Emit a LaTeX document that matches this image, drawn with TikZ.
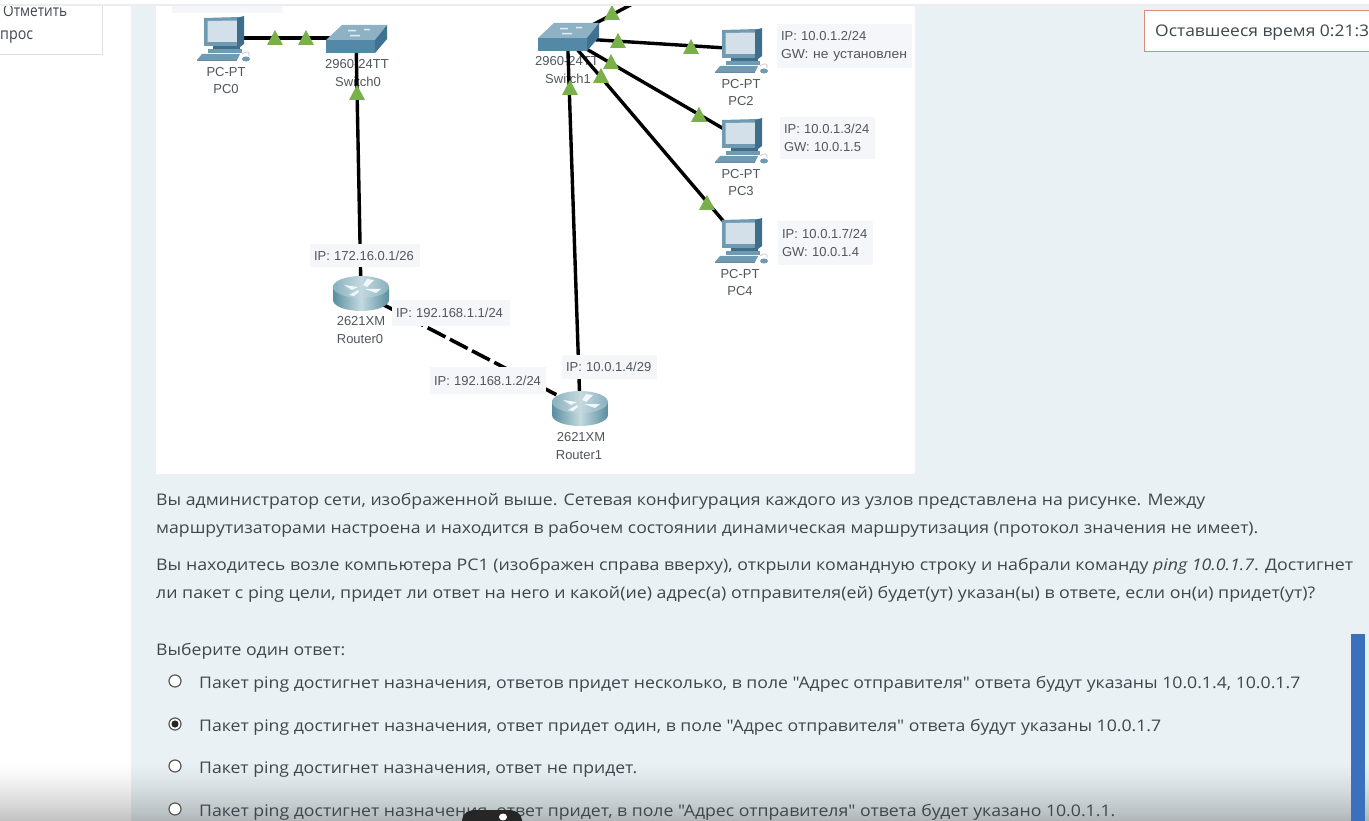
\documentclass[tikz,border=0pt]{standalone}
\usepackage{fontspec}
\usepackage{graphicx}
\newfontfamily\bodyfont{Open Sans}
\newfontfamily\labfont{Liberation Sans}
\usetikzlibrary{shapes.geometric}
\definecolor{panel}{HTML}{E9F1F4}
\definecolor{body}{HTML}{3F474D}
\definecolor{labbg}{HTML}{F4F6FA}
\definecolor{labtx}{HTML}{50565C}
\definecolor{linkgreen}{HTML}{79B04A}
\definecolor{pcframe}{HTML}{6F9AB2}
\definecolor{pcdark}{HTML}{3E6E8A}
\definecolor{pcscreen}{HTML}{D3E0EA}
\definecolor{swtop}{HTML}{8FB1C4}
\definecolor{swfront}{HTML}{5389A6}
\definecolor{swside}{HTML}{3F7190}
\definecolor{rtedge}{HTML}{5A8E9F}
\definecolor{rtmid}{HTML}{C4DAE0}
\definecolor{rttop}{HTML}{9DBFCB}
\definecolor{timerline}{HTML}{D98A78}
\definecolor{scrollbar}{HTML}{3A70BC}
\tikzset{
  txt/.style={anchor=base west,inner sep=0pt,text=body,font=\bodyfont\fontsize{16}{18}\selectfont},
  devtxt/.style={inner sep=0pt,text=labtx,font=\labfont\fontsize{13}{15}\selectfont},
  iplab/.style={fill=labbg,inner xsep=4pt,inner ysep=0pt,align=left,text=labtx,font=\labfont\fontsize{13}{18}\selectfont},
  wire/.style={line width=3.4pt,black},
  dashwire/.style={line width=3.6pt,black,dash pattern=on 20pt off 5pt},
  radio/.style={circle,draw=black!65,fill=white,line width=1.2pt,minimum size=12pt,inner sep=0pt},
  pt/.style={circle,inner sep=0pt,minimum size=0pt},
  tri/.style={fill=linkgreen,draw=none},
  pics/pcicon/.style={code={
    \fill[pcframe] (0,1) -- (36,0) -- (36,29) -- (0,29) -- cycle;
    \fill[pcscreen] (3.5,4) -- (33,3.5) -- (33,25) -- (3.5,25) -- cycle;
    \fill[pcdark] (33,1) -- (40,-1) -- (40,27) -- (36,30) -- (33,29) -- cycle;
    \fill[pcdark] (9,29) -- (36,29) -- (36,32) -- (9,32) -- cycle;
    \fill[pcframe] (4,32) -- (38,32) -- (38,36) -- (4,36) -- cycle;
    \fill[pcframe] (-2,37) -- (36,37) -- (33,43) -- (-7,43) -- cycle;
    \fill[pcdark!80] (-7,43) -- (33,43) -- (33,44.5) -- (-7,44.5) -- cycle;
    \fill[pcframe] (42,42) ellipse (4pt and 2.5pt);
    \draw[black!25,line width=.6pt] (38,37) .. controls (43,33) and (46,35) .. (45,39);
  }},
  pics/swicon/.style={code={
    \fill[swtop] (0,15) -- (16,0) -- (61,0) -- (49,15) -- cycle;
    \fill[swfront] (0,15) -- (49,15) -- (49,28) -- (0,28) -- cycle;
    \fill[swside] (49,15) -- (61,0) -- (61,14) -- (49,28) -- cycle;
    \fill[white!75!swtop] (22,5) rectangle (30,6.5) (38,4) rectangle (44,5.5) (24,10) rectangle (34,11.5);
  }},
  pics/rticon/.style={code={
    \shade[left color=rtedge,right color=rtedge,middle color=rtmid]
       (-28,-10) -- (-28,3) arc[start angle=180,end angle=0,x radius=28,y radius=11] -- (28,-10) -- cycle;
    \shade[left color=rttop!70!rtedge,right color=rttop!70!rtedge,middle color=rttop!60!white] (0,-10) ellipse (28pt and 11pt);
    \fill[white!70!pcscreen] (-17,-12) -- (-3,-10) -- (-9,-7) -- cycle (6,-18) -- (13,-17) -- (6,-10) -- (2,-12) -- cycle
      (4,-8) -- (20,-8) -- (15,-4) -- cycle (-12,-2) -- (-3,-7) -- (-2,-5) -- (-7,-1) -- cycle;
  }}
}
\newcommand{\tline}[5]{\node[txt] (#1) at (#2,#3) {\resizebox{#4pt}{\height}{#5}};}
\newcommand{\greentri}[2]{\fill[tri] (#1-8,#2+7) -- (#1,#2-8) -- (#1+8,#2+7) -- cycle;}
\begin{document}
\begin{tikzpicture}[x=1pt,y=-1pt]
\useasboundingbox (0,0) rectangle (1369,821);
\fill[white] (0,0) rectangle (1369,821);
% panel and diagram sheet
\fill[panel] (131,5) rectangle (1369,821);
\fill[white] (156,5) rectangle (915,474);
\fill[labbg] (172,5) rectangle (283,13);
% side box
\fill[white] (-2,3) rectangle (102,55);
\draw[black!12,line width=1pt] (102,3) -- (102,55) -- (-2,55);
\tline{mark}{3}{17}{64}{Отметить}
\tline{quest}{0}{40}{33}{прос}
% node anchors of the connectors
\node[pt] (pc0) at (225,38) {};
\node[pt] (sw0) at (356,38) {};
\node[pt] (r0) at (361,293) {};
\node[pt] (r1) at (580,407) {};
\node[pt] (sw1) at (567.5,38) {};
\node[pt] (pc2) at (742,49) {};
\node[pt] (pc3) at (742,139.5) {};
\node[pt] (pc4) at (742,243) {};
\coordinate (up) at (640,0);
% device captions (wires run over them)
\node[devtxt] (pc0a) at (226,72) {PC-PT};
\node[devtxt] (pc0b) at (226,89) {PC0};
\node[devtxt] (sw0a) at (357,64) {2960-24TT};
\node[devtxt] (sw0b) at (358,82) {Switch0};
\node[devtxt] (sw1a) at (567,61) {2960-24TT};
\node[devtxt] (sw1b) at (568,79) {Switch1};
\node[devtxt] (pc2a) at (741,84) {PC-PT};
\node[devtxt] (pc2b) at (741,101) {PC2};
\node[devtxt] (pc3a) at (741,174) {PC-PT};
\node[devtxt] (pc3b) at (741,191) {PC3};
\node[devtxt] (pc4a) at (740,274) {PC-PT};
\node[devtxt] (pc4b) at (740,291) {PC4};
\node[devtxt] (r0a) at (361,321) {2621XM};
\node[devtxt] (r0b) at (360,339) {Router0};
\node[devtxt] (r1a) at (581,437) {2621XM};
\node[devtxt] (r1b) at (579,455) {Router1};
% connectors
\draw[wire] (pc0) -- (sw0);
\draw[wire] (sw0) -- (r0);
\draw[wire] (sw1) -- (up);
\draw[wire] (sw1) -- (pc2);
\draw[wire] (sw1) -- (pc3);
\draw[wire] (sw1) -- (pc4);
\draw[wire] (sw1) -- (r1);
\draw[dashwire] (r0) -- (r1);
% icons
\pic at (204,17) {pcicon};
\pic at (722,29) {pcicon};
\pic at (722,119) {pcicon};
\pic at (722,219) {pcicon};
\pic at (326,25) {swicon};
\pic at (538,23) {swicon};
\pic at (361,297) {rticon};
\pic at (580,412) {rticon};
% link lights
\greentri{275}{38}\greentri{306}{38}\greentri{357}{93}
\greentri{612}{13}\greentri{618}{41}\greentri{691}{47}
\greentri{611}{62}\greentri{699}{115}\greentri{601}{76}
\greentri{707}{203}\greentri{570}{88}
% address labels
\node[iplab,text width=102pt,minimum height=23pt] (l1) at (365,255.5) {IP: 172.16.0.1/26};
\node[iplab,text width=110pt,minimum height=26pt] (l2) at (451,313) {IP: 192.168.1.1/24};
\node[iplab,text width=108pt,minimum height=27pt] (l3) at (488,380.5) {IP: 192.168.1.2/24};
\node[iplab,text width=87pt,minimum height=24pt] (l4) at (609.5,367) {IP: 10.0.1.4/29};
\node[iplab,text width=127pt,minimum height=44pt] (l5) at (844.5,46) {IP: 10.0.1.2/24\\\resizebox{126pt}{\height}{GW: не установлен}};
\node[iplab,text width=87pt,minimum height=42pt] (l6) at (827.5,138) {IP: 10.0.1.3/24\\GW: 10.0.1.5};
\node[iplab,text width=87pt,minimum height=44pt] (l7) at (825.5,243) {IP: 10.0.1.7/24\\GW: 10.0.1.4};
% bottom shade, built of thin strips
\foreach \yy in {760,762,...,820}{
  \pgfmathsetmacro{\op}{0.24*((\yy-760)/60)^1.4}
  \fill[black,opacity=\op] (0,\yy) rectangle (1369,\yy+2);
}
% top edge
\fill[white] (0,0) rectangle (1369,4);
\fill[black!7] (0,4) rectangle (1369,6);
% timer
\node[draw=timerline,line width=1pt,fill=white,minimum width=240pt,minimum height=41pt,inner sep=0pt] (timerbox) at (1264,31.5) {};
\tline{timer}{1155}{37}{214}{Оставшееся время 0:21:3}
% question
\tline{q1}{156}{505}{1049}{Вы администратор сети, изображенной выше. Сетевая конфигурация каждого из узлов представлена на рисунке. Между}
\tline{q2}{156}{533}{1102}{маршрутизаторами настроена и находится в рабочем состоянии динамическая маршрутизация (протокол значения не имеет).}
\tline{q3}{156}{570}{1197}{Вы находитесь возле компьютера PC1 (изображен справа вверху), открыли командную строку и набрали команду \textit{ping 10.0.1.7}. Достигнет}
\tline{q4}{156}{598}{1159}{ли пакет с ping цели, придет ли ответ на него и какой(ие) адрес(а) отправителя(ей) будет(ут) указан(ы) в ответе, если он(и) придет(ут)?}
\tline{pick}{156}{655}{189}{Выберите один ответ:}
% options
\node[radio] (ra) at (175,681) {};
\node[radio] (rb) at (175,724) {};
\fill[black!85] (rb) circle (3.6pt);
\node[radio] (rc) at (175,766) {};
\node[radio] (rd) at (175,809) {};
\tline{a1}{199}{688}{1101}{Пакет ping достигнет назначения, ответов придет несколько, в поле "Адрес отправителя" ответа будут указаны 10.0.1.4, 10.0.1.7}
\tline{a2}{199}{731}{962}{Пакет ping достигнет назначения, ответ придет один, в поле "Адрес отправителя" ответа будут указаны 10.0.1.7}
\tline{a3}{199}{773}{438}{Пакет ping достигнет назначения, ответ не придет.}
\tline{a4}{199}{816}{916}{Пакет ping достигнет назначения, ответ придет, в поле "Адрес отправителя" ответа будет указано 10.0.1.1.}
% scrollbar
\fill[scrollbar] (1351,634) rectangle (1365,821);
% pointer blob
\fill[black!85] (462,823) -- (462,820) .. controls (463,813) and (468,810) .. (476,810) -- (508,810) .. controls (516,810) and (521,813) .. (522,820) -- (522,823) -- cycle;
\fill[white] (503,817) ellipse (4pt and 3.5pt);
\end{tikzpicture}
\end{document}
